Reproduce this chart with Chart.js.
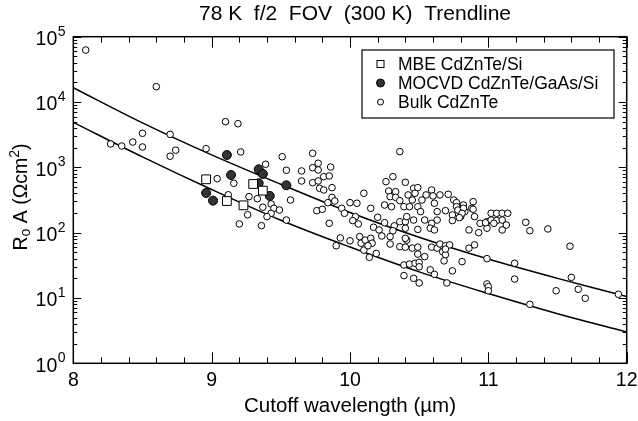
<!DOCTYPE html>
<html>
<head>
<meta charset="utf-8">
<script src="https://cdn.jsdelivr.net/npm/chart.js@4"></script>
<style>
html,body{margin:0;padding:0;background:#fff;}
#wrap{width:638px;height:421px;}
</style>
</head>
<body>
<div id="wrap"><canvas id="c" width="638" height="421"></canvas></div>
<script>
// ---------- data ----------
const titleText = '78 K  f/2  FOV  (300 K)  Trendline';
const xTitle = 'Cutoff wavelength (\u00b5m)';
const legendLabels = ['MBE CdZnTe/Si', 'MOCVD CdZnTe/GaAs/Si', 'Bulk CdZnTe'];
const xTickValues = [8, 9, 10, 11, 12];
const xTickLabels = ['8', '9', '10', '11', '12'];
const xMinorTicks = [8.2, 8.4, 8.6, 8.8, 9.2, 9.4, 9.6, 9.8, 10.2, 10.4, 10.6, 10.8, 11.2, 11.4, 11.6, 11.8];
const yTickValues = [1, 10, 100, 1000, 10000, 100000];
const yTickExponents = ['0', '1', '2', '3', '4', '5'];

const mbe = [[8.96,656],[9.11,305],[9.23,262],[9.30,556],[9.37,440]];
const mocvd = [[9.11,1545],[9.14,764],[8.96,405],[9.01,309],[9.34,933],[9.37,791],[9.34,570],[9.42,365],[9.54,531]];
const bulk = [
 [8.09,62500],[8.60,17200],[8.27,2280],[8.35,2120],[8.43,2440],[8.50,3320],[8.50,2050],[8.70,3200],[8.70,1480],[8.74,1830],
 [8.96,1930],[9.10,5000],[9.19,4660],[9.21,1720],[9.04,670],[9.16,570],[9.12,380],[9.27,356],[9.26,188],[9.20,136],
 [9.51,1455],[9.73,1640],[9.39,1114],[9.54,902],[9.65,880],[9.73,988],[9.77,1154],[9.86,1011],[9.77,912],[9.81,720],
 [9.85,738],[9.65,618],[9.73,582],[9.77,618],[9.78,478],[9.81,450],[9.87,489],[9.33,331],[9.37,245],[9.43,275],
 [9.45,236],[9.49,222],[9.43,198],[9.40,176],[9.57,316],[9.54,156],[9.36,128],[9.85,139],[9.76,217],[9.80,228],
 [9.84,288],[9.87,347],[9.89,305],[9.94,236],[9.96,198],[10.00,288],[10.05,282],[10.04,176],[10.02,153],[10.06,136],
 [9.93,83],[9.90,63],[10.00,75],
 [10.36,1740],[10.10,401],[10.15,236],[10.26,604],[10.31,720],[10.40,590],[10.28,434],[10.33,424],[10.29,356],[10.33,347],
 [10.36,309],[10.25,265],[10.30,250],[10.39,250],[10.20,172],[10.17,121],[10.21,110],[10.25,142],[10.32,127],[10.36,147],
 [10.40,147],[10.31,107],[10.29,87],[10.29,67],[10.36,61],[10.40,60],[10.39,32],[10.39,22],[10.07,87],[10.08,69],
 [10.11,77],[10.15,82],[10.16,69],[10.14,42],[10.10,54],[10.19,48],[10.13,63],[10.23,89],[10.41,77],
 [10.46,479],[10.49,489],[10.59,450],[10.42,378],[10.47,401],[10.55,378],[10.60,365],[10.65,378],[10.71,387],[10.75,316],
 [10.77,288],[10.89,298],[10.82,265],[10.52,316],[10.45,316],[10.43,250],[10.49,250],[10.51,210],[10.61,282],[10.63,210],
 [10.69,217],[10.74,187],[10.80,176],[10.83,210],[10.88,236],[10.90,176],[10.94,139],[10.99,147],[10.99,117],[10.41,176],
 [10.46,156],[10.54,156],[10.59,139],[10.63,156],[10.40,117],[10.49,112],[10.58,117],[10.61,110],[10.40,82],[10.45,58],
 [10.49,60],[10.49,47],[10.54,43],[10.59,60],[10.63,58],[10.65,67],[10.69,63],[10.72,65],[10.67,51],[10.69,46],
 [10.68,37],[10.86,58],[10.90,65],[10.81,36],[10.86,110],[10.93,100],[10.99,40],[10.43,33],[10.47,34],[10.50,35],
 [10.50,30],[10.58,27],[10.61,23],[10.46,20],[10.50,17],[10.74,26],[10.70,17],[10.99,16.4],
 [10.77,250],[10.78,222],[10.82,236],[10.81,198],[10.74,153],[10.79,170],[10.89,228],[10.98,142],[11.02,198],[11.02,156],
 [11.06,198],[11.06,153],[11.10,198],[11.10,156],[11.14,198],[11.13,131],[11.10,110],[11.04,139],[11.27,144],[11.30,107],
 [11.43,114],[11.59,62],[10.69,56],[11.00,14.9],[11.00,12.9],[11.19,34],[11.19,19.5],[11.30,8.0],[11.49,12.9],[11.60,20.7],
 [11.65,13.6],[11.70,9.9],[11.94,11.4]
];
const trendX = [8, 8.5, 9, 9.5, 10, 10.5, 11, 11.5, 12];
const trendUpper = [16560, 4790, 1549, 550, 204, 85.1, 39.4, 19.95, 10.5];
const trendLower = [4887, 1445, 457, 155, 60.3, 25.1, 11.7, 5.75, 3.02];

// ---------- chart ----------
const FONT = "'Liberation Sans', Arial, Helvetica, sans-serif";
const toPts = arr => arr.map(p => ({x: p[0], y: p[1]}));
const lineA = trendX.map((x, i) => ({x, y: trendUpper[i]}));
const lineB = trendX.map((x, i) => ({x, y: trendLower[i]}));

const decor = {
  id: 'decor',
  afterDraw(chart) {
    const {ctx, chartArea: a, scales: {x, y}} = chart;
    ctx.save();
    ctx.strokeStyle = '#000';
    ctx.fillStyle = '#000';
    // ticks (inward, mirrored)
    ctx.lineWidth = 1;
    ctx.beginPath();
    xTickValues.forEach(v => {
      const px = Math.round(x.getPixelForValue(v)) + 0.5;
      ctx.moveTo(px, a.bottom); ctx.lineTo(px, a.bottom - 11);
      ctx.moveTo(px, a.top); ctx.lineTo(px, a.top + 11);
    });
    xMinorTicks.forEach(v => {
      const px = Math.round(x.getPixelForValue(v)) + 0.5;
      ctx.moveTo(px, a.bottom); ctx.lineTo(px, a.bottom - 6);
      ctx.moveTo(px, a.top); ctx.lineTo(px, a.top + 6);
    });
    yTickValues.forEach((v, i) => {
      const py = Math.round(y.getPixelForValue(v)) + 0.5;
      ctx.moveTo(a.left, py); ctx.lineTo(a.left + 8, py);
      ctx.moveTo(a.right, py); ctx.lineTo(a.right - 8, py);
      if (i < yTickValues.length - 1) {
        for (let m = 2; m <= 9; m++) {
          const pm = Math.round(y.getPixelForValue(v * m)) + 0.5;
          ctx.moveTo(a.left, pm); ctx.lineTo(a.left + 4, pm);
          ctx.moveTo(a.right, pm); ctx.lineTo(a.right - 4, pm);
        }
      }
    });
    ctx.stroke();
    // frame
    ctx.lineWidth = 1.5;
    ctx.strokeRect(a.left, a.top, a.right - a.left, a.bottom - a.top);

    // x tick labels
    ctx.font = '19.5px ' + FONT;
    ctx.textAlign = 'center';
    ctx.textBaseline = 'top';
    xTickValues.forEach((v, i) => {
      ctx.fillText(xTickLabels[i], x.getPixelForValue(v), a.bottom + 8);
    });
    // y tick labels 10^n
    yTickValues.forEach((v, i) => {
      const py = y.getPixelForValue(v);
      ctx.font = '19.5px ' + FONT;
      ctx.textAlign = 'right';
      ctx.textBaseline = 'middle';
      ctx.fillText('10', a.left - 16, py + 3);
      ctx.font = '14px ' + FONT;
      ctx.textAlign = 'left';
      ctx.fillText(yTickExponents[i], a.left - 15.5, py - 5);
    });
    // x title
    ctx.font = '20.5px ' + FONT;
    ctx.textAlign = 'center';
    ctx.textBaseline = 'middle';
    ctx.fillText(xTitle, (a.left + a.right) / 2, 406);
    // title
    ctx.font = '21px ' + FONT;
    ctx.fillText(titleText, (a.left + a.right) / 2 + 5, 14);

    // y title: R_o A (Ωcm^2)
    ctx.save();
    ctx.translate(22, (a.top + a.bottom) / 2 - 3);
    ctx.rotate(-Math.PI / 2);
    const parts = [
      {t: 'R', f: 19.5, dy: 0},
      {t: 'o', f: 14, dy: 4},
      {t: ' A (\u03a9cm', f: 19.5, dy: 0},
      {t: '2', f: 14, dy: -7},
      {t: ')', f: 19.5, dy: 0}
    ];
    let total = 0;
    parts.forEach(p => { ctx.font = p.f + 'px ' + FONT; p.w = ctx.measureText(p.t).width; total += p.w; });
    let cx = -total / 2;
    ctx.textAlign = 'left';
    ctx.textBaseline = 'middle';
    parts.forEach(p => { ctx.font = p.f + 'px ' + FONT; ctx.fillText(p.t, cx, p.dy); cx += p.w; });
    ctx.restore();

    // legend
    const lx = 362, ly = 50, lw = 252, lh = 68;
    ctx.fillStyle = '#fff';
    ctx.fillRect(lx, ly, lw, lh);
    ctx.lineWidth = 1.2;
    ctx.strokeStyle = '#000';
    ctx.strokeRect(lx, ly, lw, lh);
    const rows = [64, 83, 102];
    ctx.lineWidth = 1;
    ctx.fillStyle = '#fff';
    ctx.fillRect(377, rows[0] - 3.5, 7, 7);
    ctx.strokeRect(377, rows[0] - 3.5, 7, 7);
    ctx.beginPath(); ctx.arc(380.5, rows[1], 4, 0, Math.PI * 2);
    ctx.fillStyle = '#333'; ctx.fill(); ctx.stroke();
    ctx.beginPath(); ctx.arc(380.5, rows[2], 3, 0, Math.PI * 2);
    ctx.fillStyle = '#fff'; ctx.fill(); ctx.stroke();
    ctx.fillStyle = '#000';
    ctx.font = '17.5px ' + FONT;
    ctx.textAlign = 'left';
    ctx.textBaseline = 'middle';
    legendLabels.forEach((t, i) => ctx.fillText(t, 398, rows[i] + 1));
    ctx.restore();
  }
};

new Chart(document.getElementById('c'), {
  type: 'scatter',
  data: {
    datasets: [
      {label: legendLabels[0], data: toPts(mbe), pointStyle: 'rect', pointRadius: 6.2, pointBorderWidth: 1,
       pointBackgroundColor: '#fff', pointBorderColor: '#000', order: 1},
      {label: legendLabels[1], data: toPts(mocvd), pointStyle: 'circle', pointRadius: 4.5, pointBorderWidth: 1,
       pointBackgroundColor: '#333', pointBorderColor: '#000', order: 2},
      {label: legendLabels[2], data: toPts(bulk), pointStyle: 'circle', pointRadius: 3.3, pointBorderWidth: 1,
       pointBackgroundColor: '#fff', pointBorderColor: '#000', order: 3},
      {label: 'upper', data: lineA, showLine: true, pointRadius: 0, borderColor: '#000', borderWidth: 1.5,
       tension: 0.35, fill: false, order: 10},
      {label: 'lower', data: lineB, showLine: true, pointRadius: 0, borderColor: '#000', borderWidth: 1.5,
       tension: 0.35, fill: false, order: 11}
    ]
  },
  options: {
    responsive: false,
    animation: false,
    layout: {padding: {left: 73.3, right: 11.3, top: 36.7, bottom: 57.7}},
    plugins: {legend: {display: false}, tooltip: {enabled: false}, title: {display: false}},
    scales: {
      x: {type: 'linear', min: 8, max: 12, display: false},
      y: {type: 'logarithmic', min: 1, max: 100000, display: false}
    }
  },
  plugins: [decor]
});
</script>
</body>
</html>
